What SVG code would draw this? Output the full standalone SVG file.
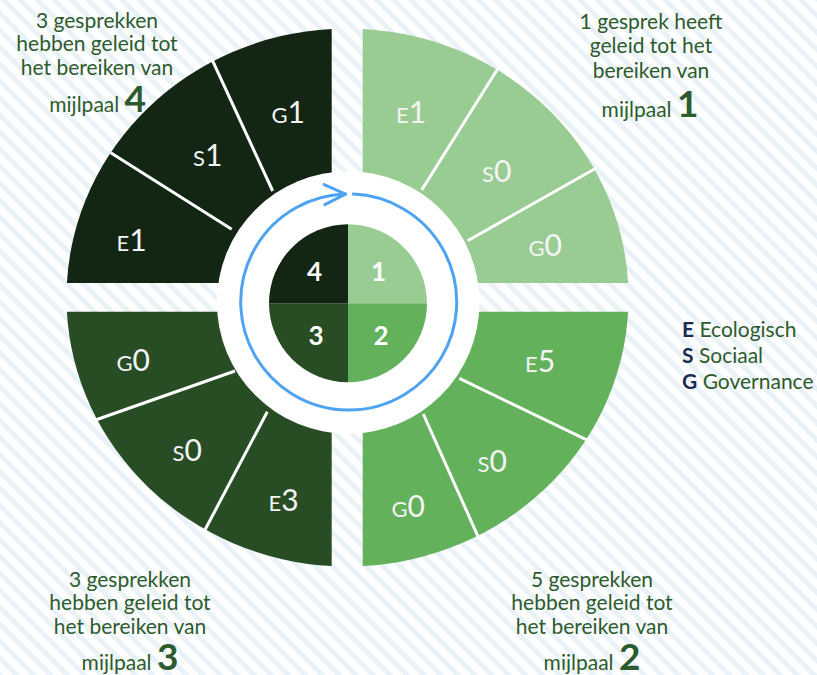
<svg xmlns="http://www.w3.org/2000/svg" width="817" height="675" viewBox="0 0 817 675">
  <defs>
    <pattern id="stripes" patternUnits="userSpaceOnUse" width="12" height="12" patternTransform="rotate(-45)">
      <rect width="12" height="12" fill="#ffffff"/>
      <rect width="5" height="12" fill="#E9F2F6"/>
    </pattern>
    <marker id="arrow" markerUnits="userSpaceOnUse" markerWidth="30" markerHeight="30" refX="0" refY="0" orient="auto" overflow="visible">
      <path d="M-21,-10 L0,0 L-21,10" fill="none" stroke="#4DA3F2" stroke-width="3" stroke-linecap="round" stroke-linejoin="round"/>
    </marker>
  </defs>
  <style>
    .div { stroke: #ffffff; stroke-width: 3; }
    .lbl { font-family: Lato, "Liberation Sans", sans-serif; fill: #F4F4F4; }
    .l { font-size: 22px; }
    .d { font-size: 30px; }
    .num { font-family: Lato, "Liberation Sans", sans-serif; font-weight: bold; font-size: 26px; fill: #ffffff; text-anchor: middle; }
    .ann { font-family: Lato, "Liberation Sans", sans-serif; font-size: 21px; fill: #2D5B2D; text-anchor: middle; }
    .big { font-weight: bold; font-size: 37px; }
    .leg { font-family: Lato, "Liberation Sans", sans-serif; font-size: 21px; fill: #2D5B2D; }
    .legk { font-weight: bold; fill: #1C2B50; }
    .c1 { fill: #99CC93; }
    .c2 { fill: #63B15B; }
    .c3 { fill: #284D25; }
    .c4 { fill: #132513; }
  </style>

  <rect x="0" y="0" width="817" height="675" fill="url(#stripes)"/>

  <g id="quadrant-1">
    <path class="c1" d="M362.7,283 L362.7,28.9 A281,269 0 0 1 628.1,283 Z"/>
    <line class="div" x1="421.7" y1="190" x2="499" y2="66.7"/>
    <line class="div" x1="467.7" y1="240.7" x2="596.7" y2="167.7"/>
    <text class="lbl" x="396" y="123.3"><tspan class="l">E</tspan><tspan class="d">1</tspan></text>
    <text class="lbl" x="482" y="181.7"><tspan class="l">S</tspan><tspan class="d">0</tspan></text>
    <text class="lbl" x="528.5" y="255.7"><tspan class="l">G</tspan><tspan class="d">0</tspan></text>
  </g>

  <g id="quadrant-2">
    <path class="c2" d="M362.7,311.7 L628.1,311.7 A281,269 0 0 1 362.7,566.1 Z"/>
    <line class="div" x1="459.3" y1="378.3" x2="588.3" y2="440.7"/>
    <line class="div" x1="423.3" y1="414" x2="479.3" y2="539.3"/>
    <text class="lbl" x="525" y="372.3"><tspan class="l">E</tspan><tspan class="d">5</tspan></text>
    <text class="lbl" x="477.5" y="471.7"><tspan class="l">S</tspan><tspan class="d">0</tspan></text>
    <text class="lbl" x="391.5" y="516.7"><tspan class="l">G</tspan><tspan class="d">0</tspan></text>
  </g>

  <g id="quadrant-3">
    <path class="c3" d="M331.7,311.7 L331.7,566.1 A281,269 0 0 1 66.9,311.7 Z"/>
    <line class="div" x1="92.7" y1="421" x2="235" y2="371"/>
    <line class="div" x1="204" y1="531.7" x2="267.3" y2="411.7"/>
    <text class="lbl" x="116.5" y="371"><tspan class="l">G</tspan><tspan class="d">0</tspan></text>
    <text class="lbl" x="172.5" y="460.7"><tspan class="l">S</tspan><tspan class="d">0</tspan></text>
    <text class="lbl" x="268.5" y="510.7"><tspan class="l">E</tspan><tspan class="d">3</tspan></text>
  </g>

  <g id="quadrant-4">
    <path class="c4" d="M331.7,283 L66.9,283 A281,269 0 0 1 331.7,28.9 Z"/>
    <line class="div" x1="110.7" y1="152.7" x2="231.7" y2="229.3"/>
    <line class="div" x1="210.7" y1="56.7" x2="272.7" y2="191"/>
    <text class="lbl" x="271.5" y="122.7"><tspan class="l">G</tspan><tspan class="d">1</tspan></text>
    <text class="lbl" x="193" y="166"><tspan class="l">S</tspan><tspan class="d">1</tspan></text>
    <text class="lbl" x="116.5" y="251"><tspan class="l">E</tspan><tspan class="d">1</tspan></text>
  </g>

  <g id="hub">
    <circle cx="348.2" cy="302.5" r="131.3" fill="#ffffff"/>
    <path class="c1" d="M348,303.3 L348,224.3 A79,79 0 0 1 427,303.3 Z"/>
    <path class="c2" d="M348,303.3 L427,303.3 A79,79 0 0 1 348,382.3 Z"/>
    <path class="c3" d="M348,303.3 L348,382.3 A79,79 0 0 1 269,303.3 Z"/>
    <path class="c4" d="M348,303.3 L269,303.3 A79,79 0 0 1 348,224.3 Z"/>
    <text class="num" x="314.5" y="281">4</text>
    <text class="num" x="378.5" y="281">1</text>
    <text class="num" x="316" y="345">3</text>
    <text class="num" x="381" y="345">2</text>
  </g>

  <g id="connectors">
    <path d="M353.3,194.1 A108,108 0 1 1 345.5,194.05" fill="none" stroke="#4DA3F2" stroke-width="3" stroke-linecap="round" marker-end="url(#arrow)"/>
  </g>

  <g id="note-1">
    <text class="ann" x="651" y="28.5">1 gesprek heeft</text>
    <text class="ann" x="651" y="53">geleid tot het</text>
    <text class="ann" x="651" y="77.5">bereiken van</text>
    <text class="ann" x="650" y="116.7">mijlpaal <tspan class="big">1</tspan></text>
  </g>

  <g id="note-4">
    <text class="ann" x="97" y="27.5">3 gesprekken</text>
    <text class="ann" x="97" y="50.5">hebben geleid tot</text>
    <text class="ann" x="97" y="74.5">het bereiken van</text>
    <text class="ann" x="97.7" y="111.7">mijlpaal <tspan class="big">4</tspan></text>
  </g>

  <g id="note-3">
    <text class="ann" x="130" y="586.7">3 gesprekken</text>
    <text class="ann" x="130" y="610">hebben geleid tot</text>
    <text class="ann" x="130" y="634">het bereiken van</text>
    <text class="ann" x="130" y="670">mijlpaal <tspan class="big">3</tspan></text>
  </g>

  <g id="note-2">
    <text class="ann" x="592" y="586.7">5 gesprekken</text>
    <text class="ann" x="592" y="610">hebben geleid tot</text>
    <text class="ann" x="592" y="634">het bereiken van</text>
    <text class="ann" x="592" y="670">mijlpaal <tspan class="big">2</tspan></text>
  </g>

  <g id="legend">
    <text class="leg" x="682" y="337.3"><tspan class="legk">E</tspan> Ecologisch</text>
    <text class="leg" x="682" y="363.3"><tspan class="legk">S</tspan> Sociaal</text>
    <text class="leg" x="682" y="389"><tspan class="legk">G</tspan> Governance</text>
  </g>
</svg>
